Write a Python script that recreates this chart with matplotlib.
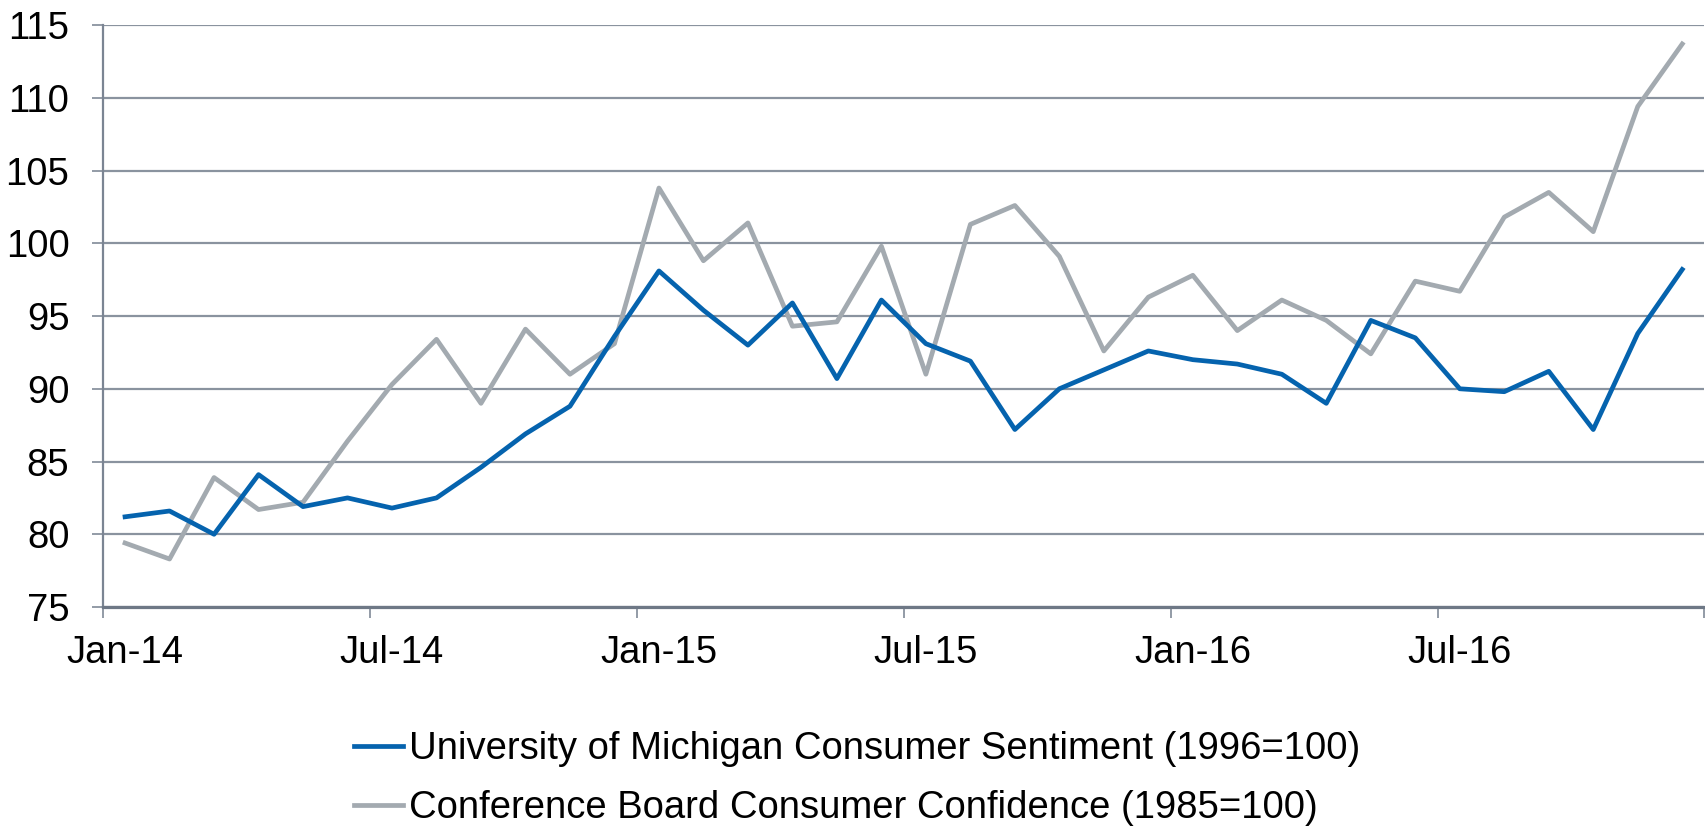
import matplotlib
matplotlib.use("Agg")
import matplotlib.pyplot as plt
import numpy as np

# Dados mensais, Jan-14 a Dez-16
months = ["Jan-14", "Feb-14", "Mar-14", "Apr-14", "May-14", "Jun-14",
          "Jul-14", "Aug-14", "Sep-14", "Oct-14", "Nov-14", "Dec-14",
          "Jan-15", "Feb-15", "Mar-15", "Apr-15", "May-15", "Jun-15",
          "Jul-15", "Aug-15", "Sep-15", "Oct-15", "Nov-15", "Dec-15",
          "Jan-16", "Feb-16", "Mar-16", "Apr-16", "May-16", "Jun-16",
          "Jul-16", "Aug-16", "Sep-16", "Oct-16", "Nov-16", "Dec-16"]

michigan = [81.2, 81.6, 80.0, 84.1, 81.9, 82.5, 81.8, 82.5, 84.6, 86.9, 88.8, 93.6,
            98.1, 95.4, 93.0, 95.9, 90.7, 96.1, 93.1, 91.9, 87.2, 90.0, 91.3, 92.6,
            92.0, 91.7, 91.0, 89.0, 94.7, 93.5, 90.0, 89.8, 91.2, 87.2, 93.8, 98.2]

conference = [79.4, 78.3, 83.9, 81.7, 82.2, 86.4, 90.3, 93.4, 89.0, 94.1, 91.0, 93.1,
              103.8, 98.8, 101.4, 94.3, 94.6, 99.8, 91.0, 101.3, 102.6, 99.1, 92.6, 96.3,
              97.8, 94.0, 96.1, 94.7, 92.4, 97.4, 96.7, 101.8, 103.5, 100.8, 109.4, 113.7]

label_michigan = "University of Michigan Consumer Sentiment (1996=100)"
label_conference = "Conference Board Consumer Confidence (1985=100)"

plt.rcParams['font.family'] = ['Liberation Sans', 'DejaVu Sans']
FS = 27.5

fig = plt.figure(figsize=(17.05, 8.27), dpi=100)
ax = fig.add_axes([0.0603, 0.266, 0.9394, 0.7037])

x = np.arange(len(months)) + 0.5  # pontos no meio do mes
ax.plot(x, michigan, color="#0563ae", lw=3.4, label=label_michigan, zorder=3)
ax.plot(x, conference, color="#a3aab0", lw=3.4, label=label_conference, zorder=2)

ax.set_xlim(0, len(months))
ax.set_ylim(75, 115)

# Eixo Y
ax.set_yticks(range(75, 116, 5))
ax.yaxis.grid(True, color="#8a939f", lw=1.6)
ax.set_axisbelow(True)
ax.tick_params(axis="y", length=8, width=1.3, color="#8a939f", pad=16, labelsize=FS)

# Eixo X: marcas no inicio do mes, rotulos no meio
ax.set_xticks(range(0, len(months) + 1, 6))
ax.set_xticklabels([])
ax.set_xticks(x[::6], minor=True)
ax.set_xticklabels(months[::6], minor=True)
ax.tick_params(axis="x", which="major", length=8, width=1.3, color="#8a939f", direction="out")
ax.tick_params(axis="x", which="minor", length=0, pad=20, labelsize=FS)

for side in ["top", "right"]:
    ax.spines[side].set_visible(False)
ax.spines["left"].set_color("#7b8593")
ax.spines["left"].set_linewidth(1.6)
ax.spines["bottom"].set_color("#6e7886")
ax.spines["bottom"].set_linewidth(2.3)

fig.legend(loc="upper left", bbox_to_anchor=(0.2075, 0.116), frameon=False,
           fontsize=FS, handlelength=1.3, handletextpad=0.15, labelspacing=0.6,
           borderpad=0, borderaxespad=0)

fig.savefig("out.png", dpi=100)
